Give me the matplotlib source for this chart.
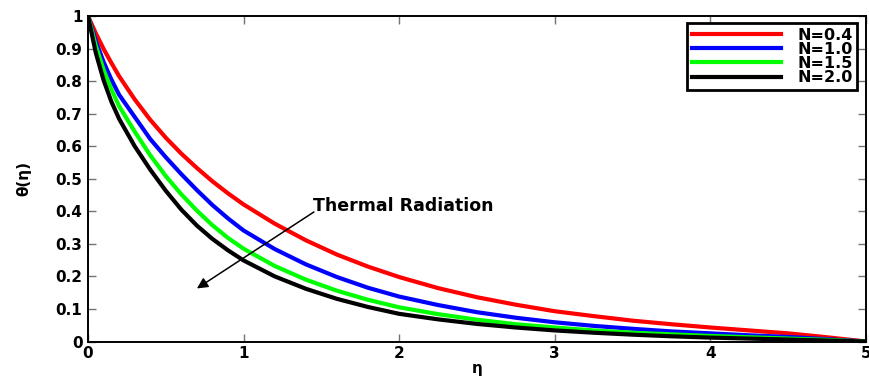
import matplotlib
matplotlib.use("Agg")
import matplotlib.pyplot as plt

# values
eta = [0.0, 0.05, 0.1, 0.15, 0.2, 0.3, 0.4, 0.5, 0.6, 0.7, 0.8, 0.9, 1.0,
       1.2, 1.4, 1.6, 1.8, 2.0, 2.25, 2.5, 2.75, 3.0, 3.25, 3.5, 3.75,
       4.0, 4.25, 4.5, 4.75, 5.0]

theta_n04 = [1.0, 0.947, 0.899, 0.856, 0.815, 0.744, 0.681, 0.626, 0.577, 0.533,
             0.492, 0.455, 0.421, 0.362, 0.311, 0.267, 0.230, 0.198, 0.164, 0.136,
             0.113, 0.093, 0.078, 0.064, 0.053, 0.043, 0.034, 0.025, 0.013, 0.0]
theta_n10 = [1.0, 0.923, 0.859, 0.805, 0.758, 0.690, 0.622, 0.566, 0.514, 0.465,
             0.419, 0.378, 0.341, 0.284, 0.237, 0.198, 0.165, 0.138, 0.112, 0.090,
             0.073, 0.059, 0.048, 0.039, 0.031, 0.025, 0.019, 0.014, 0.007, 0.0]
theta_n15 = [1.0, 0.909, 0.835, 0.775, 0.723, 0.645, 0.572, 0.508, 0.452, 0.402,
             0.357, 0.318, 0.285, 0.232, 0.190, 0.156, 0.128, 0.105, 0.084, 0.067,
             0.053, 0.043, 0.034, 0.027, 0.022, 0.017, 0.013, 0.009, 0.005, 0.0]
theta_n20 = [1.0, 0.887, 0.803, 0.737, 0.684, 0.600, 0.528, 0.463, 0.405, 0.356,
             0.315, 0.280, 0.249, 0.200, 0.162, 0.131, 0.106, 0.085, 0.068, 0.054,
             0.043, 0.034, 0.027, 0.021, 0.016, 0.012, 0.009, 0.006, 0.003, 0.0]

labels = ["N=0.4", "N=1.0", "N=1.5", "N=2.0"]
colors = ["#ff0000", "#0000ff", "#00ff00", "#000000"]

x_ticks = [0, 1, 2, 3, 4, 5]
y_ticks = [0, 0.1, 0.2, 0.3, 0.4, 0.5, 0.6, 0.7, 0.8, 0.9, 1.0]
y_tick_labels = ["0", "0.1", "0.2", "0.3", "0.4", "0.5", "0.6", "0.7", "0.8", "0.9", "1"]

plt.rcParams['font.family'] = ['DejaVu Sans']
plt.rcParams['font.weight'] = 'bold'

fig = plt.figure(figsize=(8.7, 3.76), dpi=100)
ax = fig.add_axes([88 / 870, 1 - 341.5 / 376, (866 - 88) / 870, 325.5 / 376])

lines = []
for ys, c, lab in zip([theta_n04, theta_n10, theta_n15, theta_n20], colors, labels):
    ln, = ax.plot(eta, ys, color=c, linewidth=3, label=lab)
    lines.append(ln)

ax.set_xlim(0, 5)
ax.set_ylim(0, 1)
ax.set_xticks(x_ticks)
ax.set_xticklabels([str(t) for t in x_ticks])
ax.set_yticks(y_ticks)
ax.set_yticklabels(y_tick_labels)

ax.tick_params(direction='in', top=True, right=True, length=6, width=1,
               color='0.45', labelsize=11)
ax.tick_params(axis='x', pad=3)
ax.tick_params(axis='y', pad=4)
for sp in ax.spines.values():
    sp.set_linewidth(1.4)
    sp.set_color('k')

ax.set_xlabel('η', fontsize=11, fontweight='bold', labelpad=0)
ax.set_ylabel('θ(η)', fontsize=11, fontweight='bold', labelpad=17)

# arrow showing the effect of thermal radiation
ax.annotate('', xy=(0.70, 0.163), xytext=(1.452, 0.398),
            arrowprops=dict(arrowstyle='-|>', color='k', lw=1.1,
                            mutation_scale=16, shrinkA=0, shrinkB=0))
ax.text(1.446, 0.416, 'Thermal Radiation', fontsize=12.5, fontweight='bold',
        ha='left', va='center')

leg = ax.legend(handles=lines, loc='upper right', bbox_to_anchor=(0.989, 0.979),
                borderaxespad=0, fancybox=False, fontsize=11.5, handlelength=5.6,
                handletextpad=1.0, labelspacing=-0.05, borderpad=0.3,
                framealpha=1)
leg.get_frame().set_edgecolor('k')
leg.get_frame().set_linewidth(2)

fig.savefig('out.png', dpi=100)
